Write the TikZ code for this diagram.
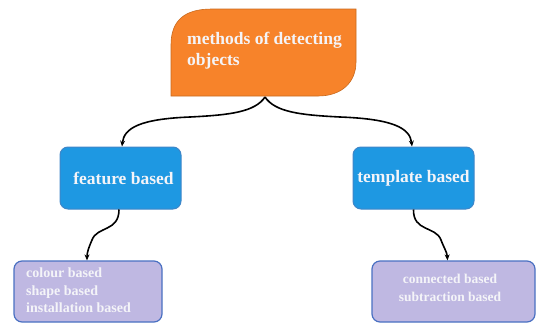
\documentclass[tikz,border=0pt]{standalone}
\usepackage{fontspec}
\setmainfont{Liberation Serif}
\usetikzlibrary{arrows.meta}
\definecolor{orng}{HTML}{F7832A}
\definecolor{orngd}{HTML}{C86A1E}
\definecolor{blu}{HTML}{1E98E2}
\definecolor{blud}{HTML}{3F86C8}
\definecolor{lav}{HTML}{BFB8E2}
\definecolor{lavd}{HTML}{4A70C2}
\definecolor{txt}{HTML}{F4F4F8}
\tikzset{
  bluebox/.style={rectangle, rounded corners=8pt, fill=blu, draw=blud, line width=1pt,
    minimum width=121pt, minimum height=62pt, text=txt, font=\bfseries\fontsize{17.5}{19}\selectfont},
  lavbox/.style={rectangle, rounded corners=8pt, fill=lav, draw=lavd, line width=1.2pt,
    minimum height=61pt},
  lavtext/.style={text=txt, font=\bfseries\fontsize{14}{17.5}\selectfont, inner sep=0pt},
  conn/.style={line width=1.6pt, -{Stealth[length=6pt,width=5pt]}}
}
\begin{document}
\begin{tikzpicture}[x=1pt,y=-1pt]
\useasboundingbox (0,0) rectangle (547,324);
% top orange shape
\fill[orng, draw=orngd, line width=0.6pt] (171,96) -- (171,45) .. controls (171,20) and (185,9) .. (212,9) -- (356,9) -- (356,62) .. controls (356,82) and (342,96) .. (318,96) -- cycle;
\node[anchor=west, align=left, text=txt, font=\bfseries\fontsize{17.5}{21}\selectfont, inner sep=0pt] (top) at (187,51) {methods of detecting\\objects};
\coordinate (topb) at (265,97);
% level 2
\node[bluebox] (fb) at (120.5,178) {\hspace{6pt}feature based};
\node[bluebox] (tb) at (413.5,178) {template based};
% level 3
\node[lavbox, minimum width=148pt] (cb) at (88,291.5) {};
\node[lavtext, anchor=west, align=left] (cbt) at (26,290.5) {colour based\\shape based\\installation based};
\node[lavbox, minimum width=163pt] (sb) at (453.5,291.5) {};
\node[lavtext, align=center, font=\bfseries\fontsize{13.5}{17.5}\selectfont] (sbt) at (450,288) {connected based\\subtraction based};
% connectors
\draw[conn] (topb) .. controls (255,112) and (230,115) .. (190,117) .. controls (140,119) and (124,128) .. ([xshift=1.5pt]fb.north);
\draw[conn] (topb) .. controls (275,112) and (300,115) .. (340,117) .. controls (393,119) and (410,128) .. ([xshift=-1.5pt]tb.north);
\draw[conn] ([xshift=-1.5pt]fb.south) .. controls (119,232) and (97,226) .. (92,240) .. controls (89,247) and (87,252) .. ([xshift=-1pt]cb.north);
\draw[conn] (tb.south) .. controls (413,232) and (436,226) .. (441,240) .. controls (444,248) and (447,252) .. ([xshift=-6pt]sb.north);
\end{tikzpicture}
\end{document}
